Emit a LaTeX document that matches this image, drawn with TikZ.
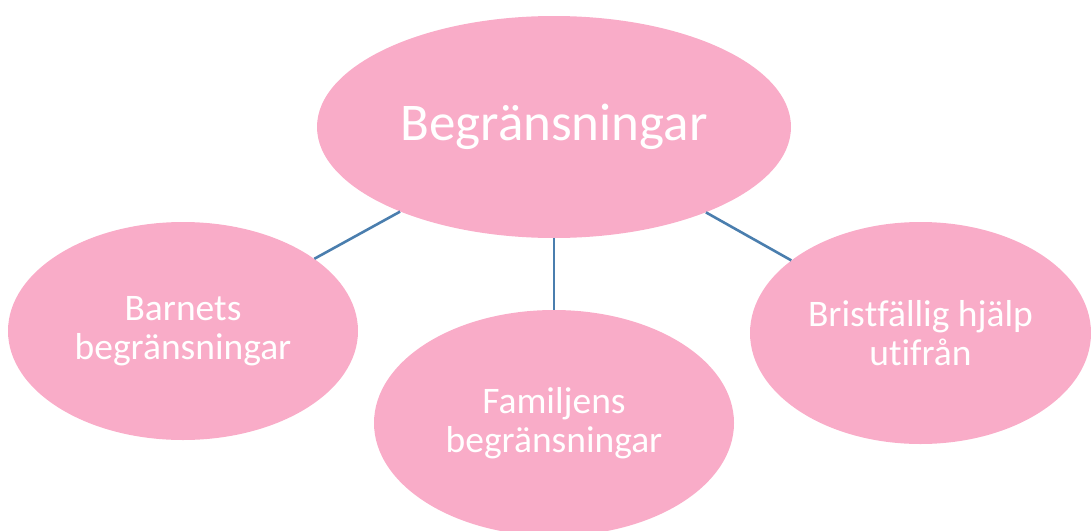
\documentclass[tikz,border=0pt]{standalone}
\usepackage{fontspec}
\setmainfont{Carlito}[Ligatures=NoCommon, Contextuals=NoAlternate, RawFeature=-clig]
\usetikzlibrary{shapes.geometric}
\definecolor{pinkfill}{HTML}{F9ACC8}
\definecolor{linkblue}{HTML}{4A7EAE}
\begin{document}
\begin{tikzpicture}[x=1pt,y=-1pt,
  bubble/.style={ellipse, fill=pinkfill, draw=none, text=white, align=center, inner sep=0pt},
  bigtext/.style={font=\fontsize{53}{56}\selectfont},
  smalltext/.style={font=\fontsize{37.5}{38.5}\selectfont},
  link/.style={draw=linkblue, line width=2.6pt}]
\useasboundingbox (0,0) rectangle (1091,530);
\clip (0,0) rectangle (1091,530);
\node[bubble, bigtext, minimum width=474pt, minimum height=222pt] (top) at (554,127) {Begränsningar};
\node[bubble, smalltext, minimum width=350pt, minimum height=218pt] (left) at (183,331) {Barnets\\begränsningar};
\node[bubble, smalltext, minimum width=360pt, minimum height=226pt] (mid) at (554,423) {Familjens\\begränsningar};
\node[bubble, smalltext, minimum width=341pt, minimum height=222pt] (right) at (920.5,333) {Bris\kern0pt t\kern0pt fällig hjälp\\uti\kern0pt f\kern0pt rån};
\draw[link] (top) -- (left);
\draw[link] (top) -- (mid);
\draw[link] (top) -- (right);
\end{tikzpicture}
\end{document}
